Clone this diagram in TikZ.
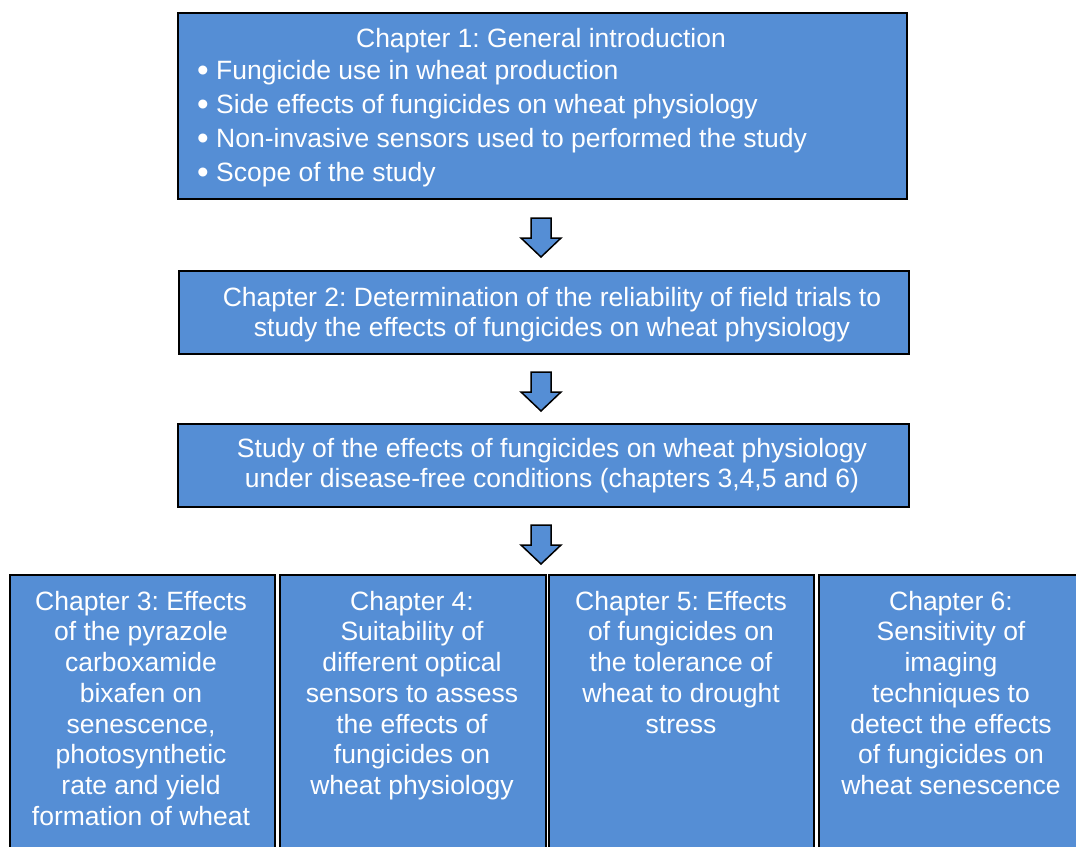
\documentclass[tikz,border=0pt]{standalone}
\usepackage{fontspec}
\setmainfont{Liberation Sans}
\frenchspacing
\definecolor{boxblue}{RGB}{85,142,213}
\newcommand\topstrut{\rule{0pt}{20pt}}
\newcommand\blt{\makebox[19pt][l]{\raisebox{-2.5pt}{\scalebox{1.25}{\textbullet}}}}
\begin{document}
\begin{tikzpicture}[x=1pt,y=-1pt,
  box/.style={draw=black, line width=2pt, fill=boxblue, inner sep=0pt, anchor=north west},
  txt/.style={text=white, inner sep=0pt, anchor=north, align=center, font=\fontsize{26.5}{30.7}\selectfont},
  blockarrow/.style={draw=black, line width=1.5pt, fill=boxblue, line join=miter}]
\useasboundingbox (0,0) rectangle (1076,846);
\clip (0,0) rectangle (1076,846);
% main boxes
\node[box, minimum width=729pt, minimum height=186pt] (b1) at (177,12) {};
\node[box, minimum width=730pt, minimum height=83pt] (b2) at (178,270) {};
\node[box, minimum width=731pt, minimum height=83pt] (b3) at (177,423) {};
% bottom boxes
\node[box, minimum width=265pt, minimum height=300pt] (c3) at (9,574) {};
\node[box, minimum width=266pt, minimum height=300pt] (c4) at (279,574) {};
\node[box, minimum width=265pt, minimum height=300pt] (c5) at (548,574) {};
\node[box, minimum width=266pt, minimum height=300pt] (c6) at (818,574) {};
% texts
\node[txt] (t1) at (541,27) {\topstrut Chapter 1: General introduction};
\node[txt, align=left, anchor=north west, font=\fontsize{26.5}{34}\selectfont] (t1b) at (197,59)
  {\topstrut\blt Fungicide use in wheat production\\
   \blt Side effects of fungicides on wheat physiology\\
   \blt Non-invasive sensors used to performed the study\\
   \blt Scope of the study};
\node[txt] (t2) at (552,286) {\topstrut Chapter 2: Determination of the reliability of field trials to\\study the effects of fungicides on wheat physiology};
\node[txt] (t3) at (552,437) {\topstrut Study of the effects of fungicides on wheat physiology\\under disease-free conditions (chapters 3,4,5 and 6)};
\node[txt] (tc3) at (141,590) {\topstrut Chapter 3: Effects\\of the pyrazole\\carboxamide\\bixafen on\\senescence,\\photosynthetic\\rate and yield\\formation of wheat};
\node[txt] (tc4) at (412,590) {\topstrut Chapter 4:\\Suitability of\\different optical\\sensors to assess\\the effects of\\fungicides on\\wheat physiology};
\node[txt] (tc5) at (681,590) {\topstrut Chapter 5: Effects\\of fungicides on\\the tolerance of\\wheat to drought\\stress};
\node[txt] (tc6) at (951,590) {\topstrut Chapter 6:\\Sensitivity of\\imaging\\techniques to\\detect the effects\\of fungicides on\\wheat senescence};
% block arrows
\foreach \yt in {218,372,525}{
  \draw[blockarrow] (531,\yt) -- (551,\yt) -- (551,{\yt+20}) -- (561,{\yt+20}) -- (541,{\yt+39}) -- (521,{\yt+20}) -- (531,{\yt+20}) -- cycle;
}
\end{tikzpicture}
\end{document}
